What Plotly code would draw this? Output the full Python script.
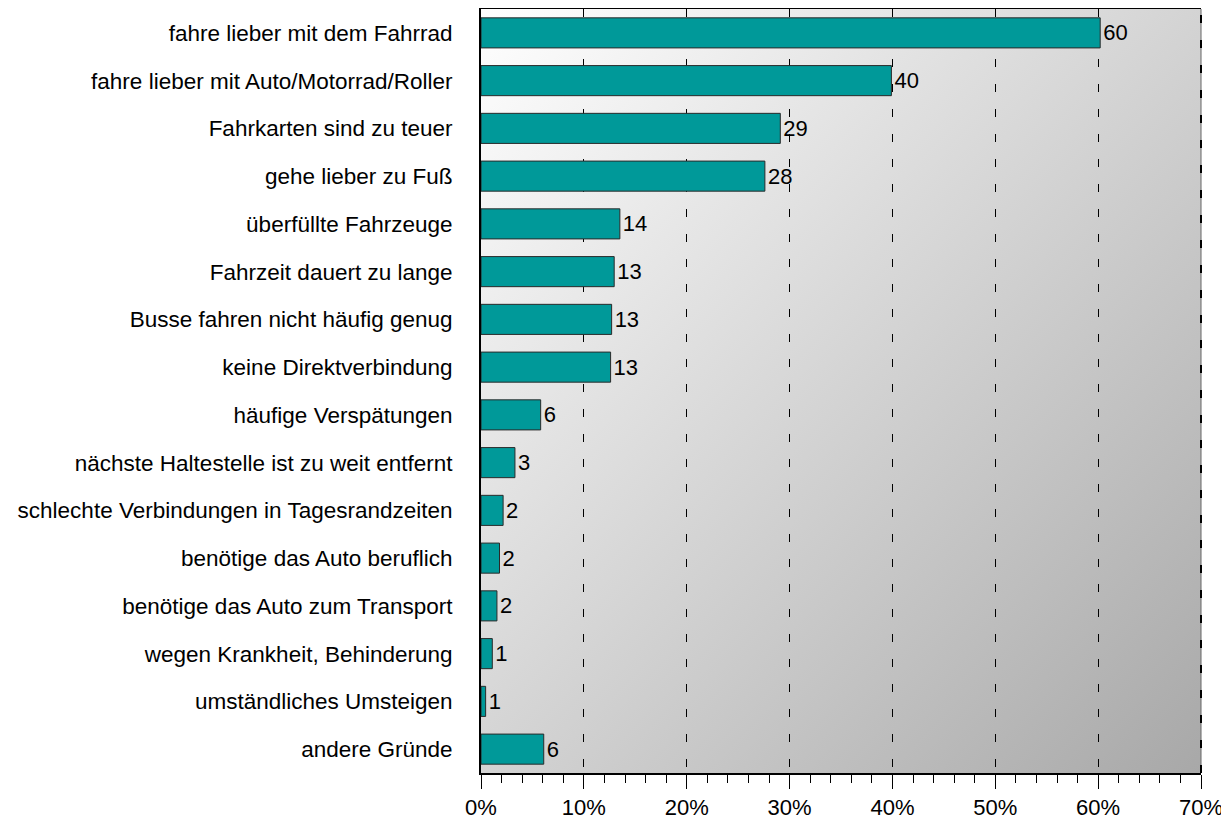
import base64
import plotly.graph_objects as go

categories = [
    "fahre lieber mit dem Fahrrad",
    "fahre lieber mit Auto/Motorrad/Roller",
    "Fahrkarten sind zu teuer",
    "gehe lieber zu Fuß",
    "überfüllte Fahrzeuge",
    "Fahrzeit dauert zu lange",
    "Busse fahren nicht häufig genug",
    "keine Direktverbindung",
    "häufige Verspätungen",
    "nächste Haltestelle ist zu weit entfernt",
    "schlechte Verbindungen in Tagesrandzeiten",
    "benötige das Auto beruflich",
    "benötige das Auto zum Transport",
    "wegen Krankheit, Behinderung",
    "umständliches Umsteigen",
    "andere Gründe",
]
values = [60.2, 39.9, 29.1, 27.6, 13.5, 12.95, 12.7, 12.6, 5.8, 3.3, 2.15, 1.8, 1.55, 1.1, 0.45, 6.1]
value_labels = ["60", "40", "29", "28", "14", "13", "13", "13", "6", "3", "2", "2", "2", "1", "1", "6"]
x_tickvals = [0, 10, 20, 30, 40, 50, 60, 70]
x_ticktext = ["0%", "10%", "20%", "30%", "40%", "50%", "60%", "70%"]

FONT = "Liberation Sans, Arial, sans-serif"

svg = (
    '<svg xmlns="http://www.w3.org/2000/svg" width="720" height="764" viewBox="0 0 720 764" preserveAspectRatio="none">'
    '<defs><linearGradient id="g" x1="0" y1="0" x2="1" y2="1">'
    '<stop offset="0" stop-color="#ffffff"/><stop offset="1" stop-color="#a8a8a8"/>'
    '</linearGradient></defs><rect width="720" height="764" fill="url(#g)"/></svg>'
)
bg_uri = "data:image/svg+xml;base64," + base64.b64encode(svg.encode()).decode()

fig = go.Figure()
fig.add_trace(go.Bar(
    x=values,
    y=categories,
    orientation="h",
    marker=dict(color="#009999", line=dict(color="#2a2a2a", width=1)),
    text=value_labels,
    textposition="outside",
    textfont=dict(family=FONT, size=22, color="#000000"),
    cliponaxis=False,
    width=0.63,
    hoverinfo="skip",
))

fig.update_layout(
    width=1221,
    height=813,
    margin=dict(l=473, r=28, t=1, b=48, autoexpand=False),
    paper_bgcolor="white",
    plot_bgcolor="rgba(0,0,0,0)",
    showlegend=False,
    font=dict(family=FONT, size=22, color="#000000"),
    images=[dict(
        source=bg_uri, xref="paper", yref="paper", x=0, y=1,
        sizex=1, sizey=1, sizing="stretch", xanchor="left", yanchor="top",
        layer="below",
    )],
    shapes=[
        dict(type="line", xref="paper", yref="paper", x0=1, x1=1, y0=0, y1=1,
             line=dict(color="#666666", width=1), layer="below"),
        dict(type="line", xref="paper", yref="paper", x0=1, x1=1, y0=0, y1=1,
             line=dict(color="#000000", width=2, dash="8px,17px"), layer="above"),
    ],
)

fig.update_xaxes(
    range=[0, 70],
    tickvals=x_tickvals,
    ticktext=x_ticktext,
    showgrid=True,
    gridcolor="#000000",
    gridwidth=1,
    griddash="8px,17px",
    showline=True,
    linecolor="#000000",
    linewidth=2,
    mirror=True,
    ticks="outside",
    ticklen=14,
    tickwidth=1,
    tickcolor="#000000",
    ticklabelstandoff=0,
    minor=dict(dtick=2, ticks="outside", ticklen=8, tickcolor="#000000", tickwidth=1, showgrid=False),
    tickfont=dict(family=FONT, size=22),
    zeroline=False,
    automargin=False,
    fixedrange=True,
)
fig.update_yaxes(
    autorange="reversed",
    showline=True,
    linecolor="#000000",
    linewidth=2,
    mirror=False,
    ticks="",
    ticklabelstandoff=22,
    tickfont=dict(family=FONT, size=22.5),
    showgrid=False,
    automargin=False,
    fixedrange=True,
)

fig.write_html("out.html")
